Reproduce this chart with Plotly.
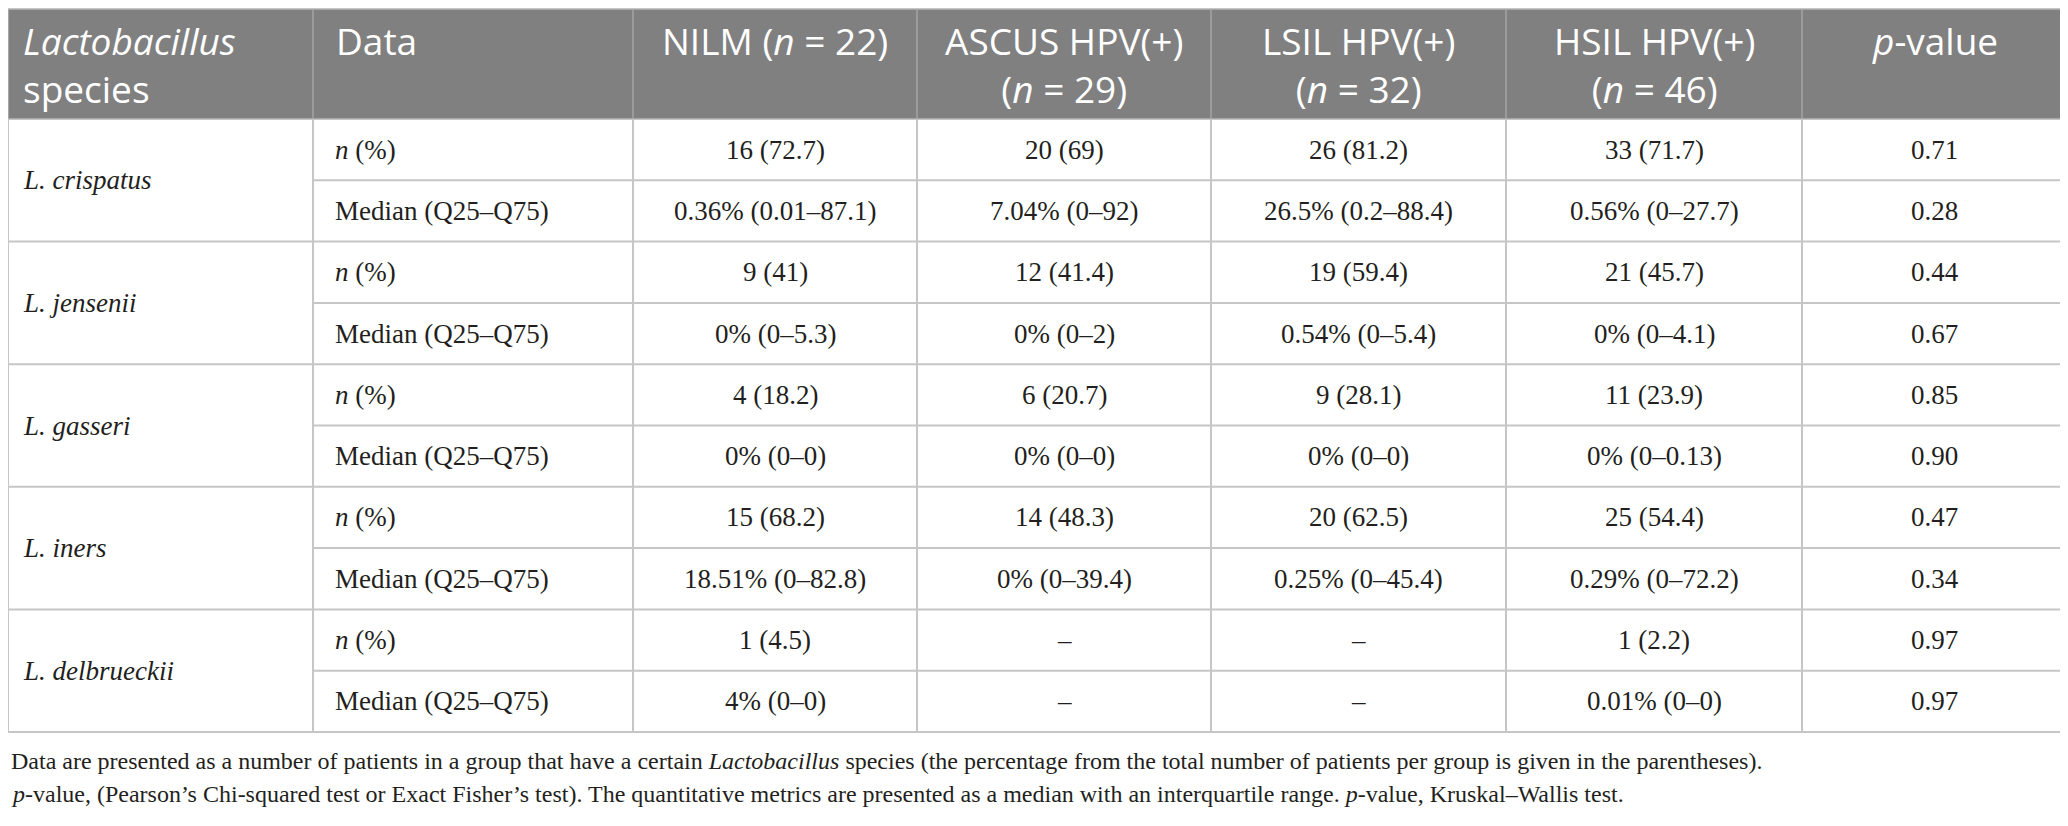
import plotly.graph_objects as go

species = ["L. crispatus", "L. jensenii", "L. gasseri", "L. iners", "L. delbrueckii"]
data_labels = ["<i>n</i> (%)", "Median (Q25–Q75)"]
headers = [
    "<i>Lactobacillus</i><br>species",
    "Data",
    "NILM (<i>n</i> = 22)",
    "ASCUS HPV(+)<br>(<i>n</i> = 29)",
    "LSIL HPV(+)<br>(<i>n</i> = 32)",
    "HSIL HPV(+)<br>(<i>n</i> = 46)",
    "<i>p</i>-value",
]

nilm = ["16 (72.7)", "0.36% (0.01–87.1)", "9 (41)", "0% (0–5.3)", "4 (18.2)", "0% (0–0)",
        "15 (68.2)", "18.51% (0–82.8)", "1 (4.5)", "4% (0–0)"]
ascus = ["20 (69)", "7.04% (0–92)", "12 (41.4)", "0% (0–2)", "6 (20.7)", "0% (0–0)",
         "14 (48.3)", "0% (0–39.4)", "–", "–"]
lsil = ["26 (81.2)", "26.5% (0.2–88.4)", "19 (59.4)", "0.54% (0–5.4)", "9 (28.1)", "0% (0–0)",
        "20 (62.5)", "0.25% (0–45.4)", "–", "–"]
hsil = ["33 (71.7)", "0.56% (0–27.7)", "21 (45.7)", "0% (0–4.1)", "11 (23.9)", "0% (0–0.13)",
        "25 (54.4)", "0.29% (0–72.2)", "1 (2.2)", "0.01% (0–0)"]
p_values = ["0.71", "0.28", "0.44", "0.67", "0.85", "0.90", "0.47", "0.34", "0.97", "0.97"]

footnotes = [
    "Data are presented as a number of patients in a group that have a certain <i>Lactobacillus</i> species "
    "(the percentage from the total number of patients per group is given in the parentheses).",
    "<i>p</i>-value, (Pearson’s Chi-squared test or Exact Fisher’s test). The quantitative metrics are "
    "presented as a median with an interquartile range. <i>p</i>-value, Kruskal–Wallis test.",
]

# layout geometry (page pixels); the html body has an 8px margin, so the
# axis ranges start at 8 to keep data coords == page coords
W, H = 2068, 826
PAD = 8
col_edges = [PAD, 313, 633, 917, 1211, 1506, 1802, 2067]
head_top, head_bot = 9, 119
head_line1 = 40
head_fs = 37
row_h = 61.3
line_col = "#c6c6c6"
head_bg = "#808080"
ink = "#231f20"
serif = "Liberation Serif"
sans = "Open Sans"

value_cols = [nilm, ascus, lsil, hsil, p_values]
n_rows = len(nilm)
table_bot = head_bot + n_rows * row_h

shapes = []
annotations = []

# header band
shapes.append(dict(type="rect", x0=col_edges[0], x1=col_edges[-1], y0=head_top, y1=head_bot,
                   fillcolor=head_bg, line=dict(color="#b4b4b4", width=1.5), layer="below"))
for x in col_edges[1:-1]:
    shapes.append(dict(type="line", x0=x, x1=x, y0=head_top, y1=head_bot,
                       line=dict(color="#a4a4a4", width=1.5)))

for i, txt in enumerate(headers):
    left = i < 2
    n_lines = txt.count("<br>") + 1
    annotations.append(dict(
        x=col_edges[i] + (13 if i == 0 else 21) if left else (col_edges[i] + col_edges[i + 1]) / 2,
        y=head_line1 + (n_lines - 1) * 1.3 * head_fs / 2, text=txt, showarrow=False,
        xanchor="left" if left else "center", yanchor="middle",
        align="left" if left else "center",
        font=dict(family=sans, size=head_fs, color="white")))

# body grid
for x in col_edges:
    shapes.append(dict(type="line", x0=x, x1=x, y0=head_bot, y1=table_bot,
                       line=dict(color=line_col, width=2)))
for r in range(1, n_rows + 1):
    y = head_bot + r * row_h
    x0 = col_edges[0] if r % 2 == 0 else col_edges[1]
    shapes.append(dict(type="line", x0=x0, x1=col_edges[-1], y0=y, y1=y,
                       line=dict(color=line_col, width=2)))

# species names
for k, sp in enumerate(species):
    annotations.append(dict(
        x=col_edges[0] + 13, y=head_bot + (2 * k + 1) * row_h, text="<i>" + sp + "</i>",
        showarrow=False, xanchor="left", yanchor="middle",
        font=dict(family=serif, size=27, color=ink)))

# data rows
for r in range(n_rows):
    yc = head_bot + (r + 0.5) * row_h
    annotations.append(dict(
        x=col_edges[1] + 20, y=yc, text=data_labels[r % 2], showarrow=False,
        xanchor="left", yanchor="middle", font=dict(family=serif, size=27, color=ink)))
    for c, vals in enumerate(value_cols):
        annotations.append(dict(
            x=(col_edges[c + 2] + col_edges[c + 3]) / 2, y=yc, text=vals[r], showarrow=False,
            xanchor="center", yanchor="middle", font=dict(family=serif, size=27, color=ink)))

# footnotes
for j, txt in enumerate(footnotes):
    annotations.append(dict(
        x=PAD + 1, y=table_bot + 29 + j * 33, text=txt, showarrow=False,
        xanchor="left", yanchor="middle", font=dict(family=serif, size=24, color=ink)))

fig = go.Figure()
fig.update_layout(
    width=W - PAD, height=H - PAD,
    margin=dict(l=0, r=0, t=0, b=0),
    paper_bgcolor="white", plot_bgcolor="white",
    xaxis=dict(range=[PAD, W], visible=False, fixedrange=True),
    yaxis=dict(range=[H, PAD], visible=False, fixedrange=True),
    shapes=shapes, annotations=annotations, showlegend=False,
)

fig.write_html("out.html")
